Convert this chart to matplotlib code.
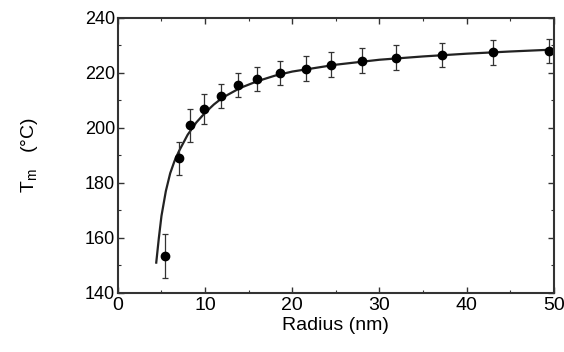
import numpy as np
import matplotlib.pyplot as plt
from matplotlib.ticker import MultipleLocator

plt.rcParams['font.family'] = ['Liberation Sans', 'DejaVu Sans']

# measured points (radius in nm, melting temperature in C)
radius = [5.4, 7.0, 8.3, 9.9, 11.8, 13.8, 16.0, 18.6, 21.6, 24.4, 28.0, 31.9, 37.2, 43.0, 49.5]
tm = [153.5, 189, 201, 207, 211.6, 215.6, 217.8, 220, 221.5, 223, 224.4, 225.6, 226.5, 227.5, 228]
tm_err = [8, 6, 6, 5.5, 4.5, 4.5, 4.5, 4.5, 4.5, 4.5, 4.5, 4.5, 4.5, 4.5, 4.5]

# fitted curve
fit_r = [4.4, 4.7, 5.0, 5.5, 6.0, 6.5, 7.0, 8.0, 9.0, 10, 11, 12, 14, 16, 18, 20, 25, 30, 35, 40, 45, 50]
fit_t = [151, 160, 168, 177, 183.5, 188, 191.5, 197.5, 202, 205.5, 208.5, 211, 214.5, 217, 219,
         220.5, 223, 224.8, 226, 227, 227.8, 228.5]

fig = plt.figure(figsize=(5.64, 3.52), dpi=100)
ax = fig.add_axes([0.209, 0.168, 0.773, 0.781])

ax.plot(fit_r, fit_t, color='#222222', lw=1.6)
ax.errorbar(radius, tm, yerr=tm_err, fmt='o', color='black', ms=6,
            ecolor='#333333', elinewidth=0.9, capsize=2.5, capthick=0.9)

ax.set_xlim(0, 50)
ax.set_ylim(140, 240)
ax.xaxis.set_major_locator(MultipleLocator(10))
ax.xaxis.set_minor_locator(MultipleLocator(5))
ax.yaxis.set_major_locator(MultipleLocator(20))
ax.yaxis.set_minor_locator(MultipleLocator(10))
ax.tick_params(which='both', direction='in', top=True, right=True, color='#333333')
ax.tick_params(which='major', length=4, width=1)
ax.tick_params(which='minor', length=2.5, width=0.8)
ax.tick_params(axis='x', labelsize=14, pad=3)
ax.tick_params(axis='y', labelsize=13, pad=2)
for s in ax.spines.values():
    s.set_linewidth(1.5)
    s.set_color('#333333')

ax.set_xlabel('Radius (nm)', fontsize=14, labelpad=2)
ax.set_ylabel('T$_\\mathregular{m}$   (\u00b0C)', fontsize=14, labelpad=32)

fig.savefig('out.png', dpi=100)
